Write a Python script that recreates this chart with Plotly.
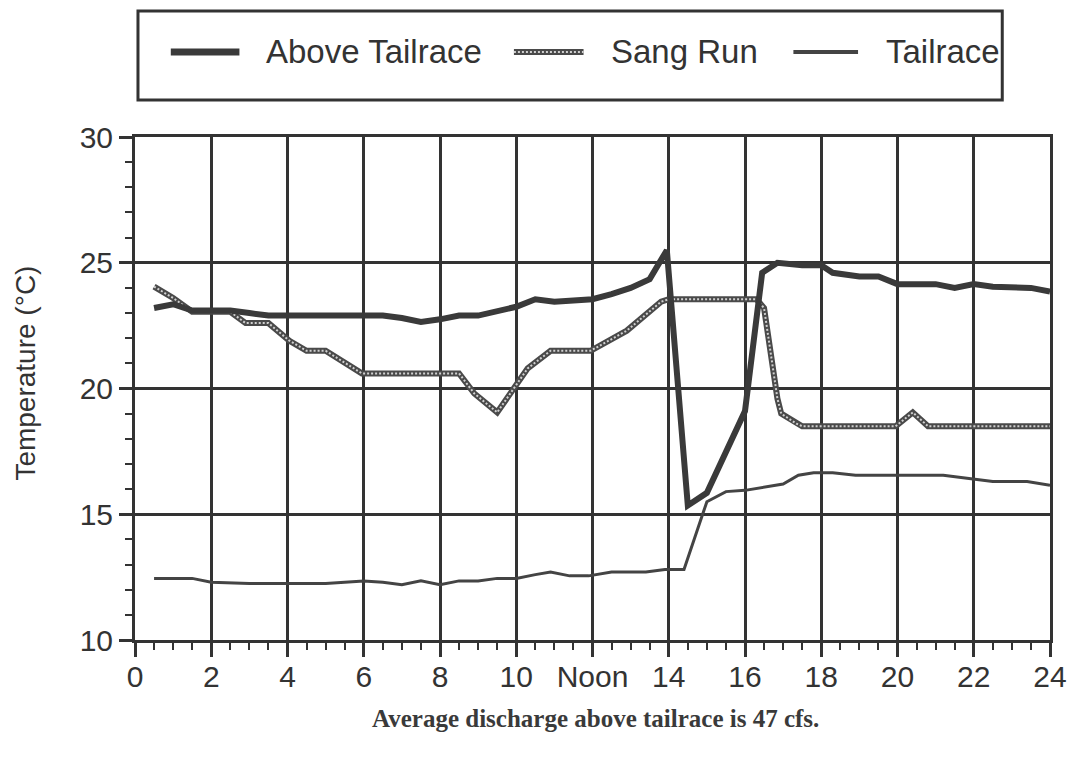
import plotly.graph_objects as go

# ---- data (hours of day, temperature in deg C) ----
hours_above = [0.5, 1.0, 1.5, 2.0, 2.5, 3.0, 3.5, 4.0, 5.0, 6.0, 6.5, 7.0, 7.5, 8.0, 8.5, 9.0,
               9.5, 10.0, 10.5, 11.0, 11.5, 12.0, 12.5, 13.0, 13.5, 13.95, 14.5, 15.0, 16.0,
               16.45, 16.85, 17.5, 18.0, 18.3, 19.0, 19.5, 20.0, 21.0, 21.5, 22.0, 22.5, 23.0,
               23.5, 24.0]
temp_above = [23.2, 23.35, 23.1, 23.1, 23.1, 23.0, 22.9, 22.9, 22.9, 22.9, 22.9, 22.8, 22.65,
              22.75, 22.9, 22.9, 23.1, 23.25, 23.55, 23.45, 23.5, 23.55, 23.75, 24.0, 24.35,
              25.5, 15.35, 15.85, 19.1, 24.6, 25.0, 24.9, 24.9, 24.6, 24.45, 24.45, 24.15,
              24.15, 24.0, 24.15, 24.05, 24.05, 24.0, 23.85]

hours_sang = [0.5, 1.0, 1.5, 2.5, 2.9, 3.5, 4.05, 4.5, 5.0, 5.95, 8.5, 8.9, 9.5, 10.3, 10.9,
              11.95, 12.9, 13.8, 14.0, 16.3, 16.5, 16.85, 16.95, 17.35, 17.5, 19.95, 20.4,
              20.8, 24.0]
temp_sang = [24.05, 23.6, 23.05, 23.05, 22.6, 22.6, 21.9, 21.5, 21.5, 20.6, 20.6, 19.8, 19.05,
             20.8, 21.5, 21.5, 22.3, 23.45, 23.55, 23.55, 23.2, 19.6, 19.0, 18.6, 18.5, 18.5,
             19.05, 18.5, 18.5]

hours_tail = [0.5, 1.5, 2.0, 3.0, 4.0, 5.0, 5.5, 6.0, 6.5, 7.0, 7.5, 8.0, 8.5, 9.0, 9.5, 10.0,
              10.5, 10.9, 11.4, 11.9, 12.5, 13.4, 13.9, 14.4, 15.0, 15.5, 16.0, 16.8, 17.0,
              17.4, 17.8, 18.3, 18.9, 21.2, 22.0, 22.5, 23.4, 24.0]
temp_tail = [12.45, 12.45, 12.3, 12.25, 12.25, 12.25, 12.3, 12.35, 12.3, 12.2, 12.35, 12.2,
             12.35, 12.35, 12.45, 12.45, 12.6, 12.7, 12.55, 12.55, 12.7, 12.7, 12.8, 12.8,
             15.5, 15.9, 15.95, 16.15, 16.2, 16.55, 16.65, 16.65, 16.55, 16.55, 16.4, 16.3,
             16.3, 16.15]

x_tickvals = [0, 2, 4, 6, 8, 10, 12, 14, 16, 18, 20, 22, 24]
x_ticktext = ["0", "2", "4", "6", "8", "10", "Noon", "14", "16", "18", "20", "22", "24"]
y_tickvals = [10, 15, 20, 25, 30]

series_names = ["Above Tailrace", "Sang Run", "Tailrace"]
caption = "Average discharge above tailrace is 47 cfs."
y_title = "Temperature (°C)"

INK = "#333333"
FONT = "Liberation Sans, Arial, sans-serif"

fig = go.Figure()
fig.add_trace(go.Scatter(x=hours_tail, y=temp_tail, mode="lines", name=series_names[2],
                         line=dict(color="#444444", width=3), showlegend=False))
fig.add_trace(go.Scatter(x=hours_sang, y=temp_sang, mode="lines", name=series_names[1],
                         line=dict(color="#4a4a4a", width=6), showlegend=False))
fig.add_trace(go.Scatter(x=hours_sang, y=temp_sang, mode="lines", name=series_names[1] + " pattern",
                         line=dict(color="#d0d0d0", width=2, dash="2px,2px"), showlegend=False,
                         hoverinfo="skip"))
fig.add_trace(go.Scatter(x=hours_above, y=temp_above, mode="lines", name=series_names[0],
                         line=dict(color="#3a3a3a", width=6), showlegend=False))

# page offset of the plot div (browser body margin)
OFF = 8
# target plot area in page pixels
L, R, T, B = 135, 1055, 137, 640
W, H = 1079 - OFF, 763 - OFF

def px(xp):
    return (xp - L) / (R - L)
def py(yp):
    return (B - yp) / (B - T)

shapes = [dict(type="rect", xref="paper", yref="paper", x0=px(138), x1=px(1007), y0=py(100), y1=py(11),
               line=dict(color=INK, width=3), fillcolor="white", layer="above")]
ly = py(52)
shapes.append(dict(type="line", xref="paper", yref="paper", x0=px(171), x1=px(240), y0=ly, y1=ly,
                   line=dict(color="#3a3a3a", width=7), layer="above"))
shapes.append(dict(type="line", xref="paper", yref="paper", x0=px(516), x1=px(586), y0=ly, y1=ly,
                   line=dict(color="#4a4a4a", width=6), layer="above"))
shapes.append(dict(type="line", xref="paper", yref="paper", x0=px(516), x1=px(586), y0=ly, y1=ly,
                   line=dict(color="#d0d0d0", width=2, dash="2px,2px"), layer="above"))
shapes.append(dict(type="line", xref="paper", yref="paper", x0=px(797), x1=px(862), y0=ly, y1=ly,
                   line=dict(color="#444444", width=4), layer="above"))

annotations = []
for name, xl in zip(series_names, [265, 612, 888]):
    annotations.append(dict(text=name, xref="paper", yref="paper", x=px(xl), y=ly, xanchor="left",
                            yanchor="middle", showarrow=False, font=dict(family=FONT, size=33, color=INK)))
annotations.append(dict(text="<b>" + caption + "</b>", xref="paper", yref="paper", x=px(598), y=py(718),
                        xanchor="center", yanchor="middle", showarrow=False,
                        font=dict(family="Liberation Serif, Times New Roman, serif", size=25, color="#3a3a3a")))
annotations.append(dict(text=y_title, xref="paper", yref="paper", x=px(24), y=py(373), xanchor="center",
                        yanchor="middle", textangle=-90, showarrow=False,
                        font=dict(family=FONT, size=28, color=INK)))

fig.update_layout(
    width=W, height=H,
    margin=dict(l=L - OFF, r=W - (R - OFF), t=T - OFF, b=H - (B - OFF)),
    paper_bgcolor="white", plot_bgcolor="white",
    shapes=shapes, annotations=annotations,
    font=dict(family=FONT, size=30, color=INK),
    showlegend=False,
)
fig.update_xaxes(range=[0, 24], tickvals=x_tickvals, ticktext=x_ticktext,
                 showgrid=True, gridcolor=INK, gridwidth=2.5,
                 showline=True, linecolor=INK, linewidth=3, mirror=True,
                 ticks="outside", ticklen=14, tickwidth=2.5, tickcolor=INK,
                 ticklabelstandoff=-6,
                 minor=dict(dtick=0.5, ticks="outside", ticklen=7, tickwidth=2, tickcolor=INK, showgrid=False),
                 zeroline=False, tickfont=dict(size=30, family=FONT, color=INK))
fig.update_yaxes(range=[10, 30], tickvals=y_tickvals,
                 showgrid=True, gridcolor=INK, gridwidth=2.5,
                 showline=True, linecolor=INK, linewidth=3, mirror=True,
                 ticks="outside", ticklen=13, tickwidth=2.5, tickcolor=INK,
                 minor=dict(dtick=1, ticks="outside", ticklen=7, tickwidth=2, tickcolor=INK, showgrid=False),
                 zeroline=False, tickfont=dict(size=30, family=FONT, color=INK))

fig.write_html("out.html")
